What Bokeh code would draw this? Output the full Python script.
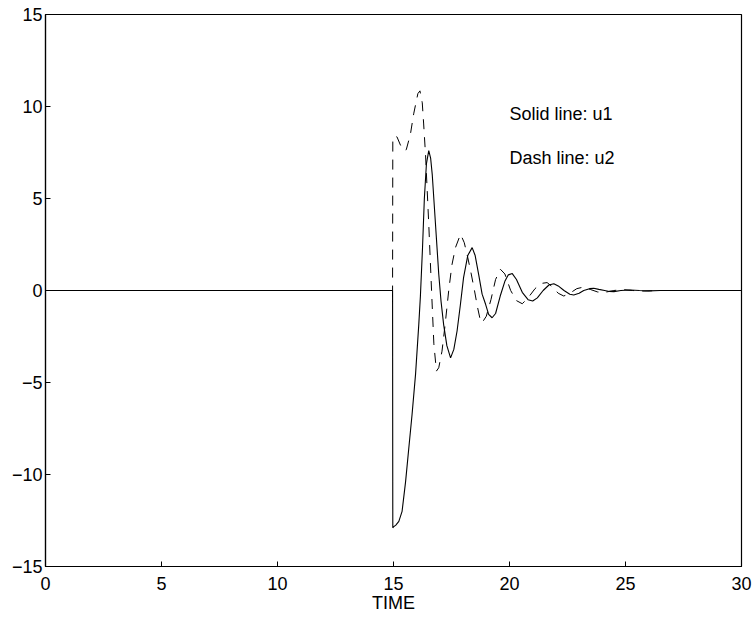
from bokeh.plotting import figure
from bokeh.models import Range1d, FixedTicker, Label
from bokeh.embed import file_html
from bokeh.resources import INLINE

# u1 (solid line)
t_u1 = [0.0, 14.96, 14.97, 15.0, 15.1, 15.23, 15.37, 15.52, 15.66, 15.8, 15.95,
        16.09, 16.16, 16.25, 16.33, 16.42, 16.52, 16.6, 16.67, 16.81, 16.95,
        17.05, 17.16, 17.3, 17.46, 17.6, 17.74, 17.88, 18.02, 18.2, 18.39,
        18.52, 18.67, 18.82, 18.97, 19.1, 19.25, 19.4, 19.6, 19.8, 19.95,
        20.12, 20.3, 20.55, 20.8, 21.0, 21.2, 21.45, 21.7, 21.91, 22.1,
        22.35, 22.6, 22.77, 23.0, 23.2, 23.45, 23.63, 23.85, 24.1, 24.3,
        24.5, 24.8, 25.2, 25.6, 26.0, 26.5, 30.0]
u1 = [0.0, 0.0, -12.9, -12.85, -12.75, -12.55, -12.0, -10.4, -8.56, -6.74, -4.56,
      -1.84, -0.3, 2.3, 5.0, 6.9, 7.6, 7.2, 6.3, 3.6, 0.9,
      -0.6, -1.84, -3.0, -3.66, -3.2, -2.2, -0.8, 0.7, 1.9, 2.33,
      1.9, 0.88, -0.2, -0.75, -1.3, -1.48, -1.25, -0.3, 0.5, 0.85,
      0.92, 0.6, -0.1, -0.5, -0.57, -0.4, 0.0, 0.3, 0.37, 0.25,
      0.0, -0.2, -0.24, -0.15, 0.0, 0.1, 0.12, 0.06, 0.0, -0.05,
      -0.06, 0.0, 0.03, 0.0, -0.02, 0.0, 0.0]

# u2 (dashed line)
t_u2 = [0.0, 14.96, 14.97, 15.05, 15.15, 15.3, 15.45, 15.55, 15.73, 15.87, 16.05,
        16.14, 16.24, 16.3, 16.38, 16.52, 16.64, 16.74, 16.85, 16.95, 17.09,
        17.23, 17.38, 17.52, 17.67, 17.89, 18.05, 18.2, 18.35, 18.49, 18.62,
        18.75, 18.82, 19.0, 19.2, 19.4, 19.61, 19.8, 20.05, 20.3, 20.55,
        20.8, 21.1, 21.35, 21.62, 21.85, 22.1, 22.34, 22.6, 22.9, 23.2,
        23.5, 23.8, 24.1, 24.5, 24.9, 25.3, 25.8, 26.5, 30.0]
u2 = [0.0, 0.0, 8.2, 8.4, 8.35, 7.9, 7.6, 7.65, 8.5, 9.6, 10.7,
      10.85, 10.2, 9.05, 7.4, 3.6, 0.0, -2.9, -4.38, -4.2, -3.3,
      -1.8, 0.0, 1.4, 2.33, 3.06, 2.6, 1.8, 0.9, 0.0, -0.9,
      -1.66, -1.75, -1.4, -0.5, 0.6, 1.15, 0.9, 0.0, -0.55, -0.72,
      -0.4, 0.1, 0.38, 0.43, 0.2, -0.15, -0.3, -0.15, 0.1, 0.19,
      0.05, -0.08, -0.1, 0.0, 0.05, 0.0, -0.03, 0.0, 0.0]

x_ticks = [0, 5, 10, 15, 20, 25, 30]
y_ticks = [-15, -10, -5, 0, 5, 10, 15]
x_label = "TIME"
notes = ["Solid line: u1", "Dash line: u2"]

FONT = "Liberation Sans"
FS = "18px"

p = figure(width=753, height=615, output_backend="svg", toolbar_location=None,
           x_range=Range1d(0, 30), y_range=Range1d(-15, 15),
           min_border_left=45, min_border_right=12, min_border_top=14,
           min_border_bottom=47)

p.line(t_u1, u1, line_color="black", line_width=1.1)
p.line(t_u2, u2, line_color="black", line_width=1.0, line_dash="10 8")

p.xgrid.visible = False
p.ygrid.visible = False
p.outline_line_color = "black"
p.outline_line_width = 1.2
p.outline_line_alpha = 1.0

for ax in (p.xaxis[0], p.yaxis[0]):
    ax.major_tick_in = 5
    ax.major_tick_out = 0
    ax.minor_tick_in = 0
    ax.minor_tick_out = 0
    ax.axis_line_color = "black"
    ax.axis_line_width = 1.2
    ax.major_tick_line_color = "black"
    ax.major_label_text_font = FONT
    ax.major_label_text_font_size = FS
    ax.major_label_text_color = "black"
    ax.axis_label_text_font = FONT
    ax.axis_label_text_font_size = FS
    ax.axis_label_text_font_style = "normal"
    ax.axis_label_text_color = "black"

p.xaxis[0].ticker = FixedTicker(ticks=x_ticks)
p.yaxis[0].ticker = FixedTicker(ticks=y_ticks)
p.xaxis[0].axis_label = x_label
p.xaxis[0].major_label_standoff = 10
p.xaxis[0].axis_label_standoff = 0
p.yaxis[0].major_label_standoff = 3

p.add_layout(Label(x=20.0, y=9.6, text=notes[0], text_font=FONT,
                   text_font_size=FS, text_color="black", text_baseline="alphabetic"))
p.add_layout(Label(x=20.0, y=7.2, text=notes[1], text_font=FONT,
                   text_font_size=FS, text_color="black", text_baseline="alphabetic"))

open("out.html", "w").write(file_html(p, INLINE))
